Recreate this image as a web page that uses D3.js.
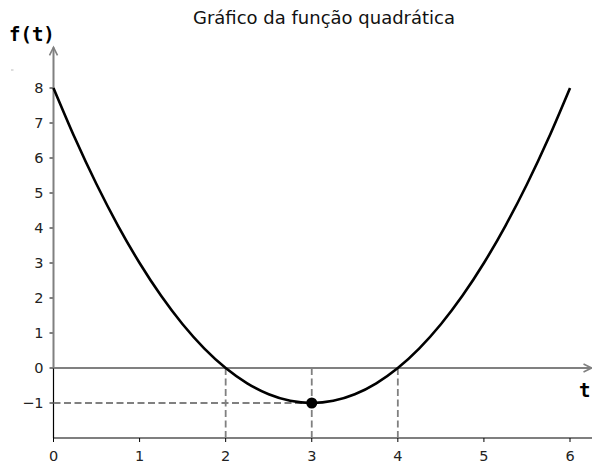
<!DOCTYPE html>
<html><head><meta charset="utf-8">
<script src="https://cdn.jsdelivr.net/npm/d3@7"></script>
<style>body{margin:0;background:#fff}svg{display:block}</style>
</head><body>
<svg id="c" width="592" height="463"></svg>
<script>
const tValues = [0,0.25,0.5,0.75,1,1.25,1.5,1.75,2,2.25,2.5,2.75,3,3.25,3.5,3.75,4,4.25,4.5,4.75,5,5.25,5.5,5.75,6];
const fValues = [8,6.5625,5.25,4.0625,3,2.0625,1.25,0.5625,0,-0.4375,-0.75,-0.9375,-1,-0.9375,-0.75,-0.4375,0,0.5625,1.25,2.0625,3,4.0625,5.25,6.5625,8];
const xTicks = [0,1,2,3,4,5,6];
const yTicks = [-1,0,1,2,3,4,5,6,7,8];
const roots = [2,4];
const vertex = {t:3, f:-1};
const title = "Gráfico da função quadrática";

const svg = d3.select("#c");
const x = d3.scaleLinear().domain([0,6]).range([53.5,570]);
const y = d3.scaleLinear().domain([-2,8]).range([438,88]);
const gray = "#808080";
const xMax = 6.25, yMaxArrow = 9.16;

// title
svg.append("text").attr("x",324).attr("y",24).attr("text-anchor","middle")
  .attr("font-family","DejaVu Sans").attr("font-size",18).attr("fill","#111").text(title);

// bottom spine
svg.append("line").attr("x1",x(0)).attr("x2",592).attr("y1",y(-2)).attr("y2",y(-2))
  .attr("stroke","#000").attr("stroke-width",1.2);
// left spine (lower part)
svg.append("line").attr("x1",x(0)).attr("x2",x(0)).attr("y1",y(-2)).attr("y2",y(0))
  .attr("stroke","#000").attr("stroke-width",1.2);

// x ticks
const xt = svg.append("g");
xTicks.forEach(v=>{
  xt.append("line").attr("x1",x(v)).attr("x2",x(v)).attr("y1",y(-2)).attr("y2",y(-2)+4).attr("stroke","#000").attr("stroke-width",1);
  xt.append("text").attr("x",x(v)).attr("y",461).attr("text-anchor","middle")
    .attr("font-family","DejaVu Sans").attr("font-size",14.5).attr("fill","#222").text(v);
});
// y ticks
const yt = svg.append("g");
yTicks.forEach(v=>{
  yt.append("line").attr("x1",x(0)-4).attr("x2",x(0)).attr("y1",y(v)).attr("y2",y(v)).attr("stroke","#000").attr("stroke-width",1);
  yt.append("text").attr("x",x(0)-10).attr("y",y(v)+5).attr("text-anchor","end")
    .attr("font-family","DejaVu Sans").attr("font-size",14.5).attr("fill","#222").text(v<0?"\u2212"+(-v):v);
});

// dashed guides
roots.concat([vertex.t]).forEach(r=>{
  svg.append("line").attr("x1",x(r)).attr("x2",x(r)).attr("y1",y(0)).attr("y2",y(-2))
    .attr("stroke",gray).attr("stroke-width",1.8).attr("stroke-dasharray","7,3.5");
});
svg.append("line").attr("x1",x(0)).attr("x2",x(vertex.t)).attr("y1",y(vertex.f)).attr("y2",y(vertex.f))
  .attr("stroke",gray).attr("stroke-width",1.8).attr("stroke-dasharray","7,3.5");

// axis arrows
svg.append("line").attr("x1",x(0)).attr("x2",x(xMax)).attr("y1",y(0)).attr("y2",y(0))
  .attr("stroke",gray).attr("stroke-width",2);
svg.append("path").attr("d",`M${x(xMax)-8},${y(0)-4}L${x(xMax)},${y(0)}L${x(xMax)-8},${y(0)+4}`)
  .attr("fill","none").attr("stroke",gray).attr("stroke-width",1.6);
svg.append("line").attr("x1",x(0)).attr("x2",x(0)).attr("y1",y(0)).attr("y2",y(yMaxArrow))
  .attr("stroke",gray).attr("stroke-width",2);
svg.append("path").attr("d",`M${x(0)-4},${y(yMaxArrow)+8}L${x(0)},${y(yMaxArrow)}L${x(0)+4},${y(yMaxArrow)+8}`)
  .attr("fill","none").attr("stroke",gray).attr("stroke-width",1.6);

// curve
const pts = tValues.map((t,i)=>[t,fValues[i]]);
svg.append("path").datum(pts)
  .attr("d",d3.line().x(d=>x(d[0])).y(d=>y(d[1])).curve(d3.curveNatural))
  .attr("fill","none").attr("stroke","#000").attr("stroke-width",2.6);

// vertex point
svg.append("circle").attr("cx",x(vertex.t)).attr("cy",y(vertex.f)).attr("r",5.5).attr("fill","#000");

// axis labels
svg.append("text").attr("x",9).attr("y",41).attr("font-family","DejaVu Sans Mono").attr("font-weight","bold")
  .attr("font-size",19).attr("fill","#000").text("f(t)");
svg.append("text").attr("x",579).attr("y",397).attr("font-family","DejaVu Sans Mono").attr("font-weight","bold")
  .attr("font-size",19).attr("fill","#000").text("t");

// small artifact mark
svg.append("line").attr("x1",11).attr("x2",13.5).attr("y1",70).attr("y2",70).attr("stroke","#bbb").attr("stroke-width",1);
</script>
</body></html>
